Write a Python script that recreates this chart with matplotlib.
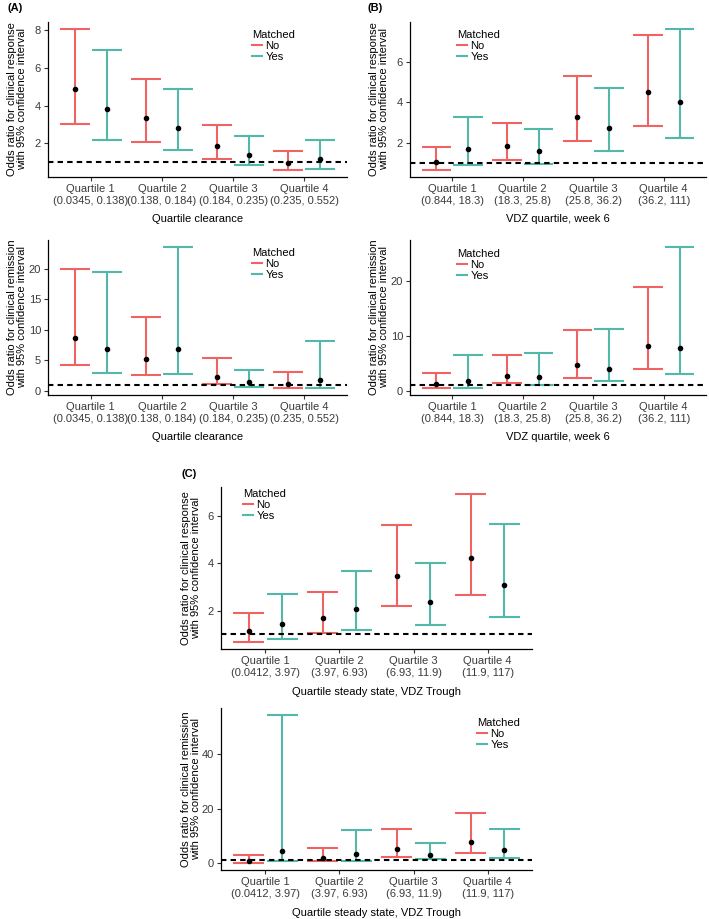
import matplotlib
matplotlib.use("Agg")
import matplotlib.pyplot as plt
from matplotlib.lines import Line2D
import numpy as np

plt.rcParams['font.family'] = ['Liberation Sans', 'DejaVu Sans']

# x categories
quartiles = ["Quartile 1", "Quartile 2", "Quartile 3", "Quartile 4"]
clearance_bins = ["(0.0345, 0.138)", "(0.138, 0.184)", "(0.184, 0.235)", "(0.235, 0.552)"]
week6_bins = ["(0.844, 18.3)", "(18.3, 25.8)", "(25.8, 36.2)", "(36.2, 111)"]
trough_bins = ["(0.0412, 3.97)", "(3.97, 6.93)", "(6.93, 11.9)", "(11.9, 117)"]

# (A) clearance - clinical response
a_resp_no_est = [4.9, 3.35, 1.86, 0.97]
a_resp_no_lo = [3.05, 2.1, 1.18, 0.6]
a_resp_no_hi = [8.05, 5.4, 2.96, 1.58]
a_resp_yes_est = [3.82, 2.84, 1.4, 1.16]
a_resp_yes_lo = [2.16, 1.67, 0.88, 0.67]
a_resp_yes_hi = [6.96, 4.9, 2.39, 2.18]

# (A) clearance - clinical remission
a_rem_no_est = [8.58, 5.14, 2.24, 1.15]
a_rem_no_lo = [4.2, 2.5, 1.04, 0.44]
a_rem_no_hi = [20.05, 12.13, 5.41, 3.06]
a_rem_yes_est = [6.78, 6.78, 1.37, 1.69]
a_rem_yes_lo = [2.9, 2.68, 0.6, 0.49]
a_rem_yes_hi = [19.56, 23.6, 3.39, 8.2]

# (B) week 6 - clinical response
b_resp_no_est = [1.06, 1.85, 3.28, 4.49]
b_resp_no_lo = [0.65, 1.16, 2.07, 2.81]
b_resp_no_hi = [1.77, 2.99, 5.29, 7.35]
b_resp_yes_est = [1.69, 1.57, 2.72, 4.02]
b_resp_yes_lo = [0.91, 0.95, 1.59, 2.21]
b_resp_yes_hi = [3.28, 2.67, 4.73, 7.63]

# (B) week 6 - clinical remission
b_rem_no_est = [1.22, 2.67, 4.68, 8.09]
b_rem_no_lo = [0.49, 1.34, 2.25, 3.95]
b_rem_no_hi = [3.28, 6.5, 11.06, 18.9]
b_rem_yes_est = [1.7, 2.49, 4.01, 7.72]
b_rem_yes_lo = [0.49, 1.09, 1.76, 2.98]
b_rem_yes_hi = [6.57, 6.81, 11.25, 26.26]

# (C) steady state trough - clinical response
c_resp_no_est = [1.16, 1.71, 3.46, 4.22]
c_resp_no_lo = [0.7, 1.08, 2.18, 2.64]
c_resp_no_hi = [1.9, 2.78, 5.62, 6.89]
c_resp_yes_est = [1.46, 2.07, 2.36, 3.1]
c_resp_yes_lo = [0.79, 1.21, 1.41, 1.75]
c_resp_yes_hi = [2.72, 3.67, 4.01, 5.64]

# (C) steady state trough - clinical remission
c_rem_no_est = [0.97, 2.07, 5.1, 7.66]
c_rem_no_lo = [0.2, 0.73, 2.31, 3.65]
c_rem_no_hi = [3.16, 5.47, 12.52, 18.24]
c_rem_yes_est = [4.38, 3.28, 3.04, 4.74]
c_rem_yes_lo = [0.73, 0.97, 1.46, 1.95]
c_rem_yes_hi = [54.1, 12.28, 7.42, 12.52]

W, H = 709, 919
RED = '#EF6363'
TEAL = '#52B9A8'
resp_label = "Odds ratio for clinical response\nwith 95% confidence interval"
rem_label = "Odds ratio for clinical remission\nwith 95% confidence interval"

fig = plt.figure(figsize=(W / 100, H / 100), dpi=100)


def draw_panel(box, no, yes, bins, yticks, ylab, ylab_x, xtitle, xtitle_y, leg_xy):
    left, top, right, bottom = box
    ax = fig.add_axes([left / W, 1 - bottom / H, (right - left) / W, (bottom - top) / H])
    x = np.arange(1, 5)
    allv = []
    for vals, off, col in [(no, -0.225, RED), (yes, 0.225, TEAL)]:
        est, lo, hi = [np.array(v) for v in vals]
        ax.vlines(x + off, lo, hi, color=col, lw=1.5)
        ax.hlines(lo, x + off - 0.21, x + off + 0.21, color=col, lw=1.5)
        ax.hlines(hi, x + off - 0.21, x + off + 0.21, color=col, lw=1.5)
        allv += list(lo) + list(hi)
    ax.axhline(1, color='black', lw=1.5, ls=(0, (2.6, 2.0)), zorder=3)
    for vals, off in [(no, -0.225), (yes, 0.225)]:
        ax.plot(x + off, vals[0], 'o', color='black', ms=3.0, zorder=5)

    lo_lim, hi_lim = min(min(allv), 1), max(allv)
    pad = 0.05 * (hi_lim - lo_lim)
    ax.set_ylim(lo_lim - pad, hi_lim + pad)
    ax.set_xlim(0.4, 4.6)
    ax.set_yticks(yticks)
    ax.set_xticks(x)
    ax.set_xticklabels([q + "\n" + b for q, b in zip(quartiles, bins)], linespacing=1.3)
    for s in ['top', 'right']:
        ax.spines[s].set_visible(False)
    for s in ['left', 'bottom']:
        ax.spines[s].set_linewidth(0.9)
    ax.tick_params(labelsize=8, labelcolor='#3a3a3a', color='#333333', length=3, width=0.8, pad=2)

    fig.text(ylab_x / W, 1 - (top + bottom) / 2 / H, ylab, rotation=90, ha='center', va='center',
             fontsize=8, linespacing=1.1, multialignment='center')
    fig.text((left + right) / 2 / W, 1 - xtitle_y / H, xtitle, ha='center', va='center', fontsize=8)

    handles = [Line2D([], [], color=RED, lw=1.5), Line2D([], [], color=TEAL, lw=1.5)]
    ax.legend(handles, ['No', 'Yes'], title='Matched', loc='upper left',
              bbox_to_anchor=(leg_xy[0] / W, 1 - leg_xy[1] / H), bbox_transform=fig.transFigure,
              frameon=False, fontsize=8, title_fontsize=8, handlelength=0.9, handletextpad=0.3,
              labelspacing=0.08, borderpad=0, borderaxespad=0, alignment='left')
    return ax


draw_panel((48, 22, 347, 177),
           (a_resp_no_est, a_resp_no_lo, a_resp_no_hi), (a_resp_yes_est, a_resp_yes_lo, a_resp_yes_hi),
           clearance_bins, [2, 4, 6, 8], resp_label, 17, "Quartile clearance", 219, (252, 30))
draw_panel((48, 240, 347, 395),
           (a_rem_no_est, a_rem_no_lo, a_rem_no_hi), (a_rem_yes_est, a_rem_yes_lo, a_rem_yes_hi),
           clearance_bins, [0, 5, 10, 15, 20], rem_label, 17, "Quartile clearance", 437, (252, 248))
draw_panel((410, 22, 706, 177),
           (b_resp_no_est, b_resp_no_lo, b_resp_no_hi), (b_resp_yes_est, b_resp_yes_lo, b_resp_yes_hi),
           week6_bins, [2, 4, 6], resp_label, 379, "VDZ quartile, week 6", 219, (457, 30))
draw_panel((410, 240, 706, 395),
           (b_rem_no_est, b_rem_no_lo, b_rem_no_hi), (b_rem_yes_est, b_rem_yes_lo, b_rem_yes_hi),
           week6_bins, [0, 10, 20], rem_label, 379, "VDZ quartile, week 6", 437, (457, 249))
draw_panel((221, 487, 532, 649),
           (c_resp_no_est, c_resp_no_lo, c_resp_no_hi), (c_resp_yes_est, c_resp_yes_lo, c_resp_yes_hi),
           trough_bins, [2, 4, 6], resp_label, 191, "Quartile steady state, VDZ Trough", 692, (243, 489))
draw_panel((221, 708, 532, 870),
           (c_rem_no_est, c_rem_no_lo, c_rem_no_hi), (c_rem_yes_est, c_rem_yes_lo, c_rem_yes_hi),
           trough_bins, [0, 20, 40], rem_label, 191, "Quartile steady state, VDZ Trough", 913, (477, 718))

fig.text(7 / W, 1 - 3 / H, "(A)", fontweight='bold', fontsize=8, va='top')
fig.text(368 / W, 1 - 3 / H, "(B)", fontweight='bold', fontsize=8, va='top')
fig.text(182 / W, 1 - 469 / H, "(C)", fontweight='bold', fontsize=8, va='top')

fig.savefig("out.png", dpi=100)
